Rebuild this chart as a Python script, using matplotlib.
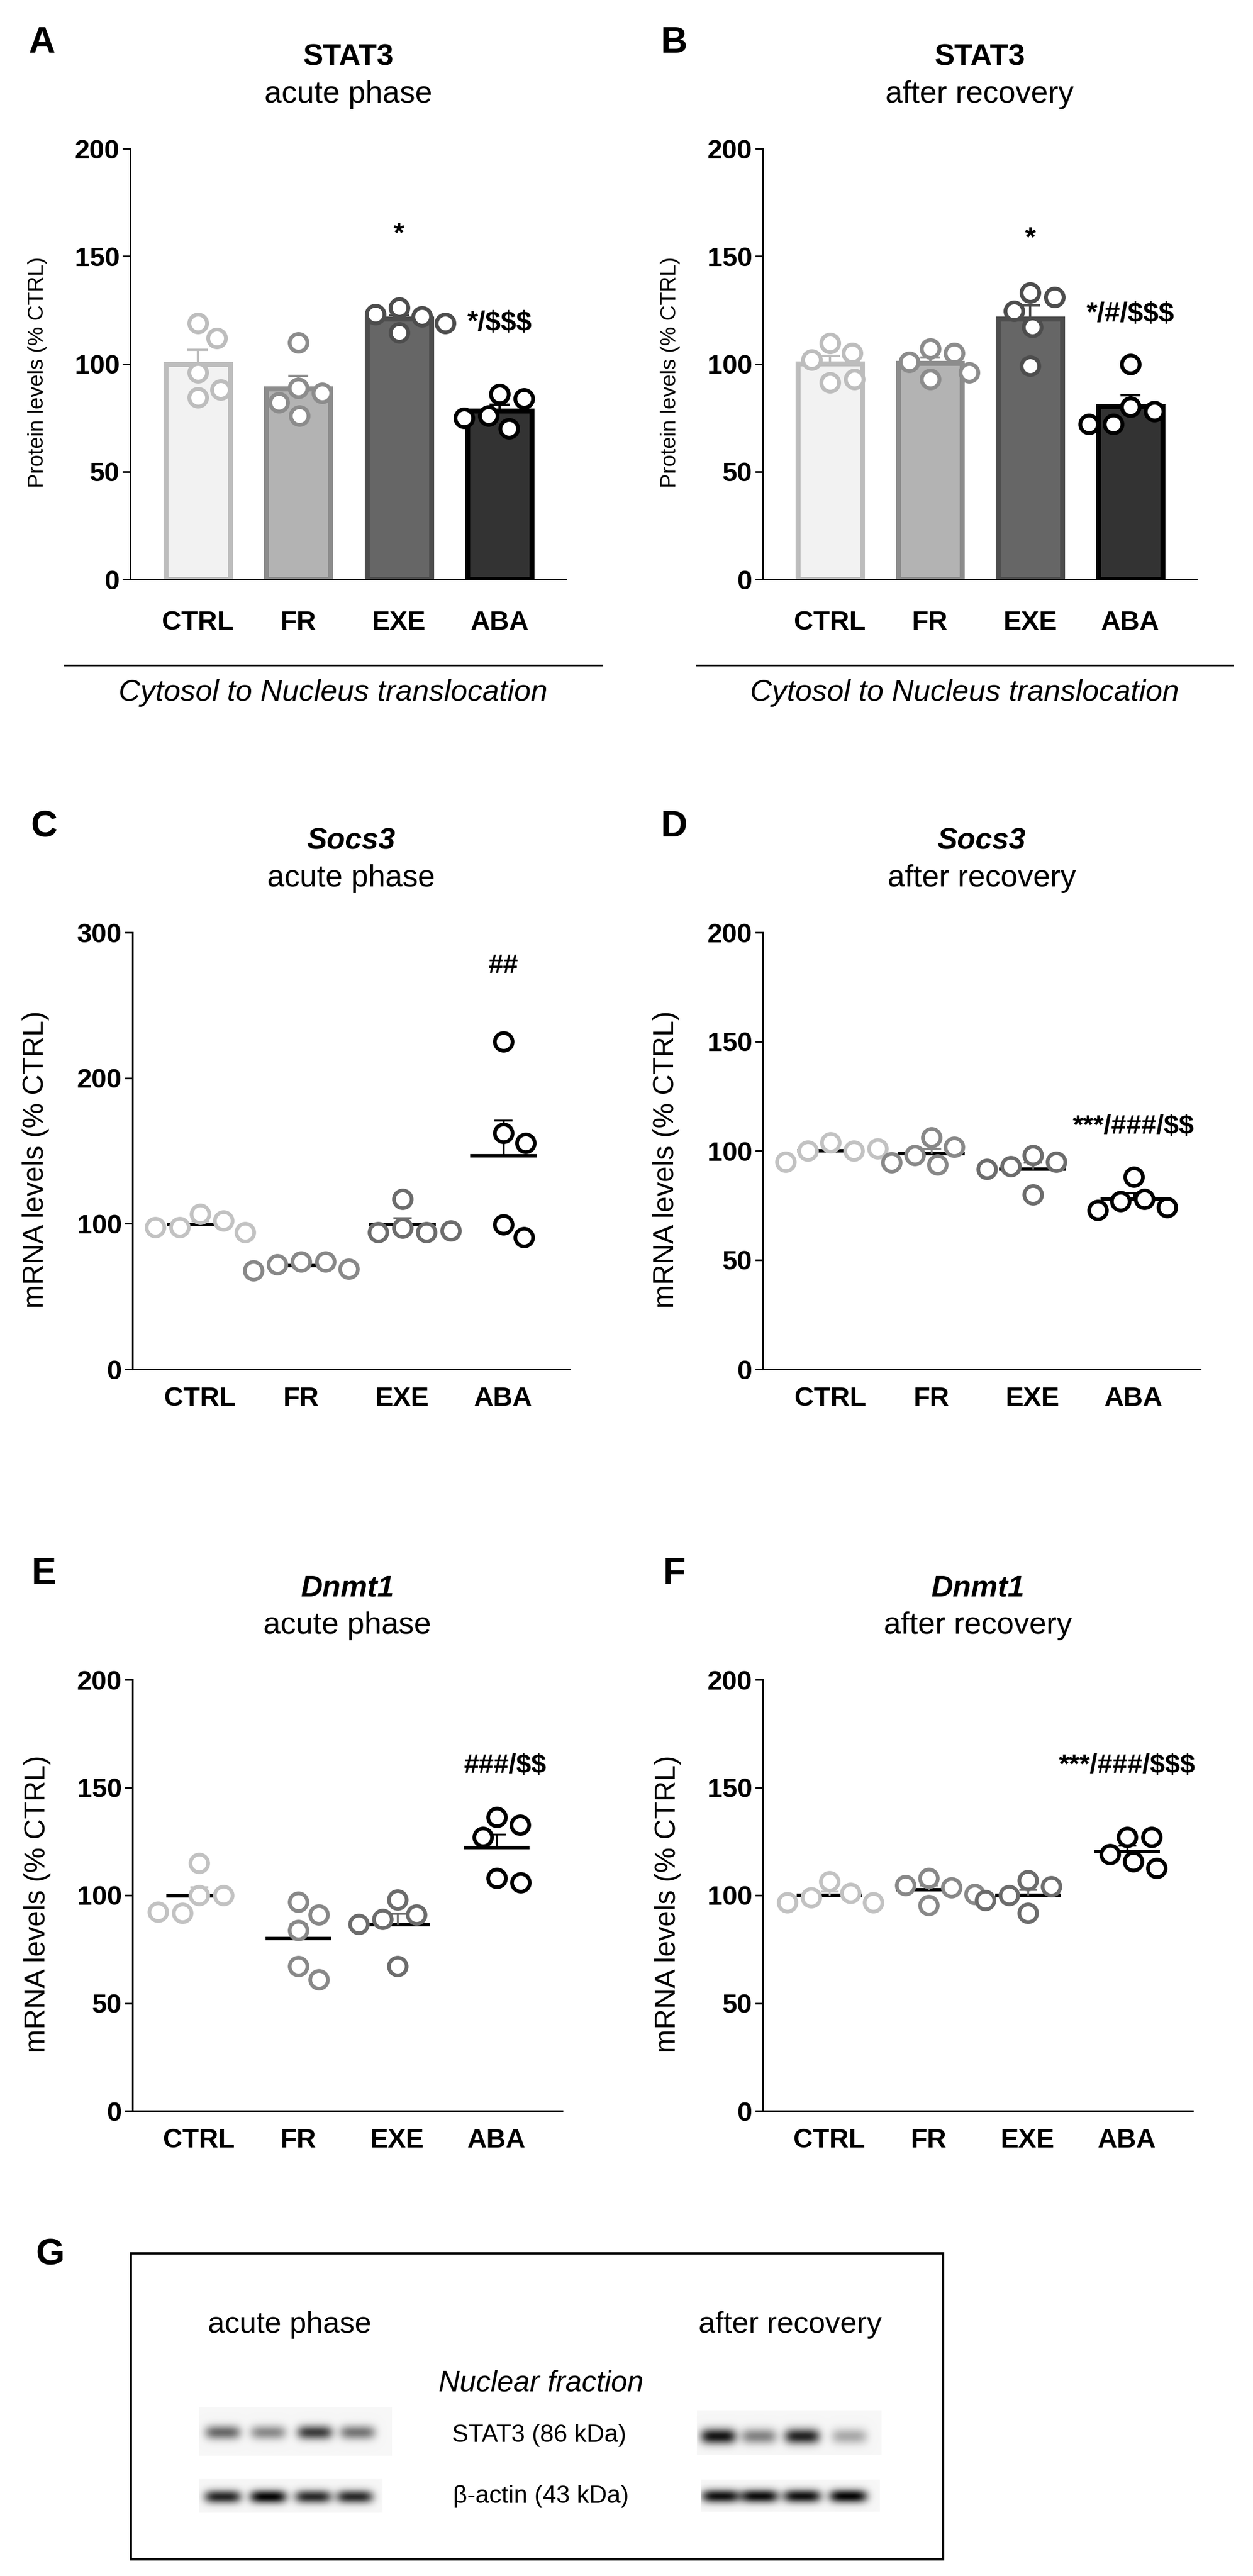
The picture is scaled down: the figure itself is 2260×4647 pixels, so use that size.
import numpy as np
import matplotlib
matplotlib.use("Agg")
import matplotlib.pyplot as plt

plt.rcParams['font.family'] = ['Liberation Sans', 'DejaVu Sans']

groups = ["CTRL", "FR", "EXE", "ABA"]

# STAT3 protein, cytosol to nucleus translocation (% CTRL)
stat3_acute = [
    [119, 112, 96, 84.5, 88],
    [110, 88.7, 86.6, 82, 76],
    [126, 122, 123, 119, 114.5],
    [86, 84, 76, 75, 70],
]
stat3_recovery = [
    [109.6, 105, 102, 91.5, 93],
    [107, 105, 101, 93, 96],
    [133, 131, 124.5, 117, 99],
    [100, 80, 78, 72, 72],
]
# Socs3 mRNA (% CTRL)
socs3_acute = [
    [106.5, 102, 97.5, 97.5, 94],
    [73.8, 73.8, 71.8, 69, 67.7],
    [117, 97, 94, 94, 95],
    [225, 162, 155.5, 99.5, 90.7],
]
socs3_recovery = [
    [103.7, 100, 100, 101, 95],
    [106, 101.7, 97.9, 93.6, 94.6],
    [98, 95, 93, 91.6, 80],
    [88, 78, 77, 74, 72.8],
]
# Dnmt1 mRNA (% CTRL)
dnmt1_acute = [
    [115, 99.9, 99.9, 91.7, 92.3],
    [97, 91, 83.8, 67, 61],
    [98, 91, 89, 86.6, 67],
    [136.3, 132.7, 127, 108, 106],
]
dnmt1_recovery = [
    [106.5, 100.9, 99, 96.7, 96.7],
    [108, 103.7, 104.6, 100.5, 95.5],
    [107, 104, 99.9, 97.6, 91.9],
    [127, 127, 119, 115.6, 112.5],
]

stat3_acute_sig = [("*", 2, 160), ("*/$$$", 3, 119)]
stat3_recovery_sig = [("*", 2, 158), ("*/#/$$$", 3, 123)]
socs3_acute_sig = [("##", 3, 277)]
socs3_recovery_sig = [("***/###/$$", 3, 111)]
dnmt1_acute_sig = [("###/$$", 3.08, 160)]
dnmt1_recovery_sig = [("***/###/$$$", 3, 160)]

# western blot band darkness (0 = none, 1 = black), lanes left to right
blot_stat3_acute = [0.55, 0.42, 0.72, 0.5]
blot_actin_acute = [0.82, 0.95, 0.8, 0.8]
blot_stat3_recovery = [0.88, 0.45, 0.82, 0.3]
blot_actin_recovery = [0.9, 0.92, 0.9, 0.95]

bar_face = ["#f2f2f2", "#b3b3b3", "#666666", "#333333"]
bar_edge = ["#bdbdbd", "#8c8c8c", "#4d4d4d", "#000000"]
dot_edge = ["#c2c2c2", "#888888", "#6c6c6c", "#000000"]

W, H = 2260, 4647
fig = plt.figure(figsize=(W / 100, H / 100), dpi=100)

ov = fig.add_axes([0, 0, 1, 1])
ov.set_xlim(0, W)
ov.set_ylim(H, 0)
ov.axis("off")


def add_ax(left, top, right, bottom):
    ax = fig.add_axes([left / W, 1 - bottom / H, (right - left) / W, (bottom - top) / H])
    ax.set_facecolor("none")
    return ax


def swarm(vals, xpx, ypx, diam=44.0):
    placed = []
    out = []
    for v in vals:
        y = v * ypx
        cands = [0.0]
        for px, py in placed:
            dy = y - py
            if abs(dy) < diam:
                h = np.sqrt(diam ** 2 - dy ** 2)
                cands += [px + h, px - h]
        cands.sort(key=abs)
        pick = 0.0
        for c in cands:
            if all((c - px) ** 2 + (y - py) ** 2 >= diam ** 2 - 1e-6 for px, py in placed):
                pick = c
                break
        placed.append((pick, y))
        out.append(pick / xpx)
    return np.array(out)


def style(ax, ymax, step, ylabel, ylabsize, xpad):
    ax.set_xlim(-0.67, 3.66)
    ax.set_ylim(0, ymax)
    ax.set_yticks(np.arange(0, ymax + 1, step))
    ax.set_xticks(range(4))
    ax.set_xticklabels(groups)
    for s in ["top", "right"]:
        ax.spines[s].set_visible(False)
    for s in ["left", "bottom"]:
        ax.spines[s].set_linewidth(2.2)
    ax.tick_params(axis="y", length=10, width=2.2, pad=4, labelsize=35)
    ax.tick_params(axis="x", length=0, pad=xpad, labelsize=35)
    for t in ax.get_xticklabels() + ax.get_yticklabels():
        t.set_fontweight("bold")
    ax.set_ylabel(ylabel, fontsize=ylabsize)
    ax.yaxis.set_label_coords(-0.19, 0.48)


def mean_sem(v):
    v = np.asarray(v, float)
    return v.mean(), v.std(ddof=1) / np.sqrt(len(v))


def bar_panel(box, data, sig):
    left, top, right, bottom = box
    ax = add_ax(*box)
    style(ax, 200, 50, "Protein levels (% CTRL)", 28, 40)
    xpx = (right - left) / (3.66 + 0.67)
    ypx = (bottom - top) / 200
    for i, vals in enumerate(data):
        m, s = mean_sem(vals)
        ax.bar(i, m, width=0.64, color=bar_face[i], edgecolor=bar_edge[i], linewidth=6.5, zorder=2)
        ax.vlines(i, m, m + s, color=bar_edge[i], linewidth=3, zorder=2.5)
        ax.hlines(m + s, i - 0.1, i + 0.1, color=bar_edge[i], linewidth=3, zorder=2.5)
        xs = i + swarm(vals, xpx, ypx)
        ax.plot(xs, vals, "o", ms=23, mew=5, mfc="white", mec=bar_edge[i], zorder=3, clip_on=False)
    for txt, x, y in sig:
        ax.text(x, y, txt, ha="center", va="center", fontsize=36, fontweight="bold", parse_math=False)
    return ax


def dot_panel(box, data, sig, ymax, step):
    left, top, right, bottom = box
    ax = add_ax(*box)
    style(ax, ymax, step, "mRNA levels (% CTRL)", 37, 22)
    xpx = (right - left) / (3.66 + 0.67)
    ypx = (bottom - top) / ymax
    for i, vals in enumerate(data):
        m, s = mean_sem(vals)
        ec = dot_edge[i] if i < 3 else "black"
        ax.hlines(m, i - 0.33, i + 0.33, color="black", linewidth=4.5, zorder=2)
        ax.vlines(i, m, m + s, color=ec, linewidth=2.5, zorder=2)
        ax.hlines(m + s, i - 0.09, i + 0.09, color=ec, linewidth=2.5, zorder=2)
        xs = i + swarm(vals, xpx, ypx)
        ax.plot(xs, vals, "o", ms=23, mew=4.8, mfc="white", mec=dot_edge[i], zorder=3, clip_on=False)
    for txt, x, y in sig:
        ax.text(x, y, txt, ha="center", va="center", fontsize=35, fontweight="bold", parse_math=False)
    return ax


boxes = {
    "A": (235, 268, 1021, 1045),
    "B": (1376, 268, 2158, 1045),
    "C": (239, 1682, 1028, 2470),
    "D": (1376, 1682, 2165, 2470),
    "E": (239, 3030, 1014, 3808),
    "F": (1376, 3030, 2151, 3808),
}

bar_panel(boxes["A"], stat3_acute, stat3_acute_sig)
bar_panel(boxes["B"], stat3_recovery, stat3_recovery_sig)
dot_panel(boxes["C"], socs3_acute, socs3_acute_sig, 300, 100)
dot_panel(boxes["D"], socs3_recovery, socs3_recovery_sig, 200, 50)
dot_panel(boxes["E"], dnmt1_acute, dnmt1_acute_sig, 200, 50)
dot_panel(boxes["F"], dnmt1_recovery, dnmt1_recovery_sig, 200, 50)

titles = {
    "A": ("STAT3", "normal", "acute phase"),
    "B": ("STAT3", "normal", "after recovery"),
    "C": ("Socs3", "italic", "acute phase"),
    "D": ("Socs3", "italic", "after recovery"),
    "E": ("Dnmt1", "italic", "acute phase"),
    "F": ("Dnmt1", "italic", "after recovery"),
}
for key, (gene, st, phase) in titles.items():
    left, top, right, bottom = boxes[key]
    cx = (left + right) / 2
    ov.text(cx, top - 165, gene, ha="center", va="center", fontsize=39, fontweight="bold", fontstyle=st)
    ov.text(cx, top - 97, phase, ha="center", va="center", fontsize=40)
    ov.text(left - 160, top - 190, key, ha="center", va="center", fontsize=48, fontweight="bold")

# translocation lines under A and B
for x0, x1 in [(116, 1086), (1257, 2223)]:
    ov.plot([x0, x1], [1200, 1200], color="black", linewidth=2.2)
    ov.text((x0 + x1) / 2, 1250, "Cytosol to Nucleus translocation", ha="center", va="center",
            fontsize=39, fontstyle="italic")

# panel G
ov.text(90, 4068, "G", ha="center", va="center", fontsize=48, fontweight="bold")
ov.add_patch(plt.Rectangle((236, 4065), 1465, 552, fill=False, edgecolor="black", linewidth=3))
ov.text(522, 4194, "acute phase", ha="center", va="center", fontsize=39)
ov.text(1425, 4194, "after recovery", ha="center", va="center", fontsize=39)
ov.text(976, 4299, "Nuclear fraction", ha="center", va="center", fontsize=38, fontstyle="italic")
ov.text(972, 4393, "STAT3 (86 kDa)", ha="center", va="center", fontsize=32)
ov.text(976, 4504, "\u03b2-actin (43 kDa)", ha="center", va="center", fontsize=32)


def blot(x0, x1, y0, y1, lanes, yc, dark, wx, wy):
    xs = np.arange(int(x0), int(x1)) + 0.5
    ys = np.arange(int(y0), int(y1)) + 0.5
    X, Y = np.meshgrid(xs, ys)
    img = np.full(X.shape, 0.035)
    for xc, d in zip(lanes, dark):
        img += d * np.exp(-((X - xc) / wx) ** 4 - ((Y - yc) / wy) ** 2)
    ov.imshow(np.clip(img, 0, 1), cmap="gray_r", vmin=0, vmax=1, extent=(x0, x1, y1, y0),
              aspect="auto", interpolation="bilinear", zorder=1)


blot(359, 707, 4343, 4430, [402, 484, 568, 645], 4388, blot_stat3_acute, 32, 13)
blot(359, 690, 4471, 4533, [402, 484, 565, 640], 4504, blot_actin_acute, 33, 12)
blot(1257, 1590, 4348, 4428, [1296, 1369, 1447, 1532], 4395, blot_stat3_recovery, 32, 14)
blot(1265, 1587, 4473, 4531, [1300, 1370, 1447, 1530], 4503, blot_actin_recovery, 34, 12)
ov.set_xlim(0, W)
ov.set_ylim(H, 0)

fig.savefig("out.png", dpi=100)
